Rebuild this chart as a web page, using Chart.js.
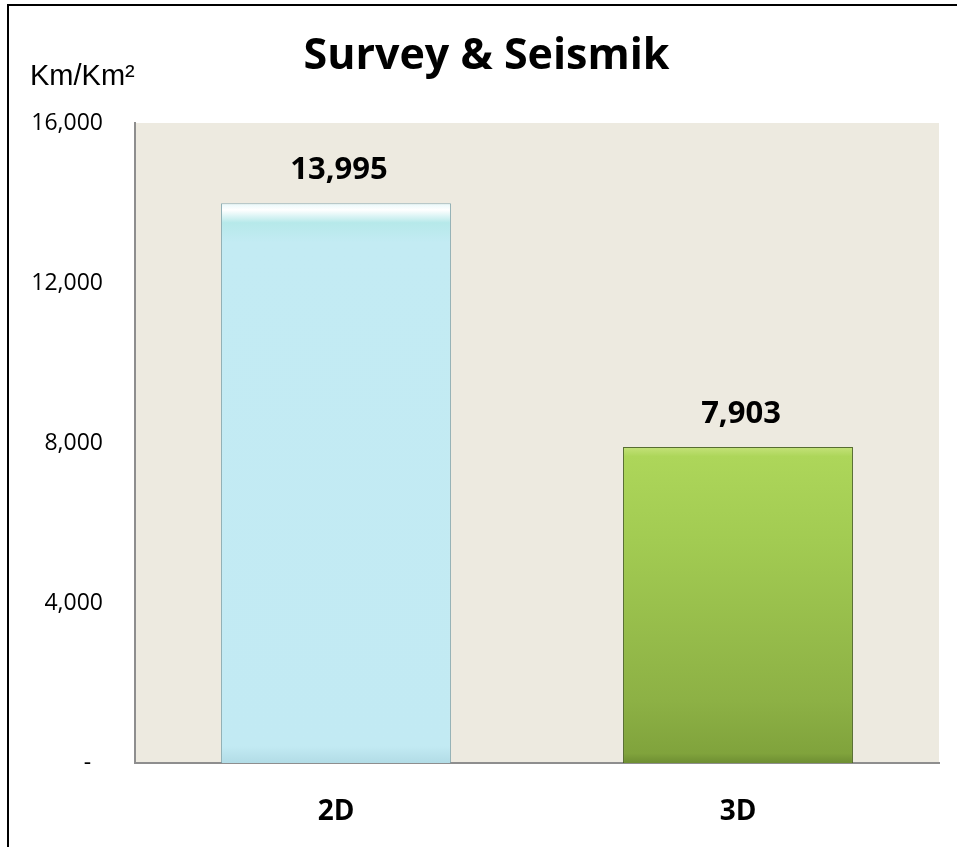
<!DOCTYPE html>
<html>
<head>
<meta charset="utf-8">
<script src="https://cdn.jsdelivr.net/npm/chart.js@4.4.1/dist/chart.umd.min.js"></script>
<style>
  html, body { margin: 0; padding: 0; background: #fff; overflow: hidden; }
  #frame { position: absolute; left: 7px; top: 4px; width: 1200px; height: 1200px;
           border-left: 2px solid #000; border-top: 2px solid #000; box-sizing: border-box; }
  #wrap { position: absolute; left: 0; top: 0; width: 957px; height: 847px; }
</style>
</head>
<body>
<div id="frame"></div>
<div id="wrap"><canvas id="c" width="957" height="847"></canvas></div>
<script>
const categories = ['2D', '3D'];
const values = [13995, 7903];
const tickValues = [0, 4000, 8000, 12000, 16000];
const titleText = 'Survey & Seismik';
const unitText = 'Km/Km\u00B2';

const fmt = v => v.toLocaleString('en-US');

const plotBg = {
  id: 'plotBg',
  beforeDraw(chart) {
    const {ctx, chartArea: a} = chart;
    ctx.save();
    ctx.fillStyle = '#EDEAE0';
    ctx.fillRect(a.left, a.top, a.right - a.left, a.bottom - a.top);
    ctx.restore();
  }
};

const extras = {
  id: 'extras',
  afterDraw(chart) {
    const ctx = chart.ctx;
    ctx.save();
    ctx.fillStyle = '#000';
    ctx.font = '29px "Liberation Sans", Arial, sans-serif';
    ctx.textAlign = 'left';
    ctx.textBaseline = 'middle';
    ctx.fillText(unitText, 30, 77);
    const meta = chart.getDatasetMeta(0);
    ctx.font = 'bold 31px "Open Sans", sans-serif';
    ctx.textAlign = 'center';
    ctx.textBaseline = 'alphabetic';
    meta.data.forEach((bar, i) => {
      ctx.fillText(fmt(values[i]), bar.x + 3, bar.y - 24);
    });
    ctx.restore();
  }
};

function barFill(context) {
  const chart = context.chart;
  const i = context.dataIndex;
  const yScale = chart.scales.y;
  if (!yScale || !chart.chartArea) return i === 0 ? '#C2EAF3' : '#98C24C';
  const top = yScale.getPixelForValue(values[i]);
  const bottom = yScale.getPixelForValue(0);
  const g = chart.ctx.createLinearGradient(0, top, 0, bottom);
  if (i === 0) {
    g.addColorStop(0, '#E6F8FA');
    g.addColorStop(0.012, '#FFFFFF');
    g.addColorStop(0.035, '#B6E9EA');
    g.addColorStop(0.07, '#C3EBF3');
    g.addColorStop(0.97, '#C2EAF3');
    g.addColorStop(1, '#B2DCE6');
  } else {
    g.addColorStop(0, '#C4E27A');
    g.addColorStop(0.03, '#ADD65A');
    g.addColorStop(0.3, '#A2CB52');
    g.addColorStop(0.8, '#8DB145');
    g.addColorStop(0.97, '#80A33C');
    g.addColorStop(1, '#6E8E32');
  }
  return g;
}

new Chart(document.getElementById('c'), {
  type: 'bar',
  data: {
    labels: categories,
    datasets: [{
      data: values,
      backgroundColor: barFill,
      borderColor: ['rgba(120,160,170,0.8)', 'rgba(70,95,30,0.9)'],
      borderWidth: 1,
      categoryPercentage: 1,
      barPercentage: 0.572
    }]
  },
  options: {
    responsive: false,
    animation: false,
    devicePixelRatio: 1,
    layout: { padding: { left: 16, right: 0, top: 0, bottom: 0 } },
    plugins: {
      legend: { display: false },
      tooltip: { enabled: false },
      title: {
        display: true,
        text: titleText,
        color: '#000',
        font: { family: '"Open Sans", sans-serif', size: 43, weight: 'bold', lineHeight: 1.2 },
        padding: { top: 31, bottom: 40.4 }
      }
    },
    scales: {
      x: {
        grid: { display: false, drawTicks: false },
        border: { display: true, color: '#8E8E8E', width: 2 },
        ticks: {
          color: '#000',
          padding: 32,
          font: { family: '"Open Sans", sans-serif', size: 28, weight: 'bold', lineHeight: 1.2 }
        },
        afterFit(s) { s.height = 84; }
      },
      y: {
        min: 0, max: 16000,
        grid: { display: false, drawTicks: false },
        border: { display: true, color: '#8E8E8E', width: 2 },
        afterBuildTicks(s) { s.ticks = tickValues.map(v => ({ value: v })); },
        ticks: {
          color: '#000',
          padding: 32,
          font: { family: '"Open Sans", sans-serif', size: 23, lineHeight: 1.2 },
          callback: v => v === 0 ? '-  ' : fmt(v)
        },
        afterFit(s) { s.width = 119; }
      },
      y2: {
        position: 'right',
        display: true,
        grid: { display: false, drawTicks: false },
        border: { display: false },
        ticks: { display: false },
        afterFit(s) { s.width = 18; }
      }
    }
  },
  plugins: [plotBg, extras]
});
</script>
</body>
</html>
